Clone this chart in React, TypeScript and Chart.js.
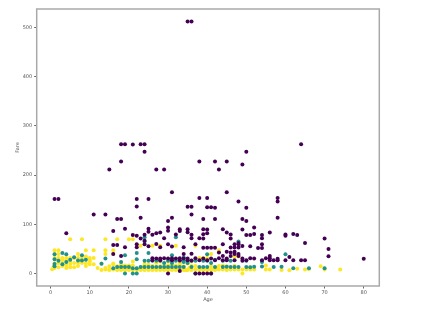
import React, { useEffect, useRef } from "react";
import { Chart, registerables } from "chart.js";

Chart.register(...registerables);

// Passenger points: [Age, Fare]
const firstClassPoints: [number, number][] = [
  [35, 512.3], [36, 512.3],
  [18, 263], [19, 263], [21, 262.4], [23, 263], [24, 263], [64, 263],
  [24, 247.5], [50, 247.5],
  [18, 227.5], [38, 227.5], [42, 227.5], [45, 227.5], [49, 221.8],
  [15, 211.5], [27, 211.5], [29, 211.3], [43, 211.3],
  [31, 164.9], [45, 164.9],
  [1, 151.6], [2, 151.6], [22, 151.6], [25, 151.6],
  [38, 153.5], [40, 153.5], [58, 153.5], [58, 146.5], [48, 146.5],
  [22, 136], [35, 135.6], [36, 135.6], [40, 134.5], [41, 134.5], [42, 133.7], [50, 133.7],
  [11, 120], [14, 120], [36, 120],
  [23, 113.3], [31, 113.3], [58, 113.3],
  [17, 110.9], [18, 110.9], [39, 110.9], [42, 110.9], [49, 110.9], [50, 106.4], [30, 106.4], [30, 93.5],
  [4, 81.9], [16, 86.5], [19, 91.1], [25, 91.1], [25, 85], [28, 83.2], [30, 87], [33, 90], [33, 86.5],
  [35, 90], [35, 83.5], [39, 90], [40, 89.1], [44, 90], [45, 83.2], [46, 79.2], [49, 89.1], [52, 93.5],
  [56, 83.2], [60, 79.2], [60, 76.7], [62, 80], [63, 77.9], [65, 61.9], [70, 71], [71, 49.5], [71, 34.7], [80, 30],
  [21, 77.9], [22, 76.7], [23, 71], [24, 66.6], [24, 78.8], [26, 78.9], [27, 81.9], [29, 71.3], [32, 79.2],
  [36, 78.9], [36, 71.3], [38, 71.3], [39, 79.6], [39, 71], [40, 81.9], [46, 71], [48, 61.9], [50, 77.9],
  [51, 77.9], [52, 80], [54, 71.3], [54, 78.3], [36, 40.1],
  [16, 57.9], [17, 57.9], [19, 53.1], [22, 53.1], [22, 59.4], [24, 59.4], [25, 55.4], [27, 60], [28, 53.1],
  [30, 59.4], [31, 55], [34, 53.1], [37, 59.4], [39, 52], [40, 52], [41, 52], [42, 52], [44, 59.4],
  [46, 52.6], [47, 52.6], [48, 52.6], [47, 59.4], [48, 59.4], [49, 55.9], [51, 55.4], [53, 51.9], [54, 51.9],
  [54, 59.4], [56, 30.7], [57, 26.6],
  [16, 39.4], [18, 35.5], [34, 39.6], [43, 42.5], [45, 44], [46, 42.4], [47, 44], [48, 39.6], [44, 35.5],
  [26, 30.7], [27, 30.5], [28, 30.5], [29, 30.7], [30, 30.5], [31, 30.7], [32, 30.5], [33, 30.7], [34, 30.5],
  [35, 30.5], [37, 30.7], [39, 30.5], [41, 30.5], [43, 30.7], [45, 30.5], [46, 35.5], [47, 39.6], [48, 35.5],
  [49, 30.5], [50, 26.6], [51, 30.7], [52, 30.5], [55, 30.7], [56, 35.5], [58, 29.7], [58, 26.6], [60, 26.6],
  [61, 33.5], [62, 26.6], [64, 26.6], [65, 26.6],
  [26, 26.6], [28, 26.6], [31, 26.6], [33, 26.6], [35, 26.6], [36, 26.3], [38, 26.6], [40, 26.6], [42, 26.6],
  [44, 26.6], [45, 26.6], [47, 26.6], [49, 25.9], [54, 26.6], [56, 26.6],
  [30, 0], [37, 0], [38, 0], [39, 0], [40, 0], [41, 0], [33, 5]
];

const secondClassPoints: [number, number][] = [
  [1, 39], [1, 29], [1, 19.3], [1, 14.5], [2, 26], [3, 41.6], [3, 18.8], [4, 39], [4, 23], [5, 27.8],
  [6, 33], [7, 26.3], [8, 36.8], [8, 26.3], [9, 27.8], [13, 19.5], [14, 30.1], [16, 10.5], [17, 13],
  [18, 13], [18, 23], [19, 36.8], [19, 13], [19, 0], [20, 13], [21, 10.5], [21, 0], [22, 41.6], [22, 29],
  [22, 10.5], [22, 0], [23, 13], [24, 73.5], [24, 65], [24, 26], [24, 13], [25, 41.6], [25, 26], [25, 13],
  [26, 26], [26, 13], [27, 26], [27, 13], [28, 26], [28, 13], [29, 21], [29, 13], [30, 26], [30, 13],
  [31, 36.8], [31, 26.3], [31, 21], [31, 13], [32, 73.5], [32, 26], [32, 13], [33, 26], [33, 13],
  [34, 32.5], [34, 26], [34, 23], [34, 13], [35, 26], [35, 21], [36, 26], [36, 13], [37, 0], [37, 26],
  [38, 13], [39, 26], [39, 13], [40, 39], [40, 26], [40, 13], [41, 0], [41, 21], [42, 27.7], [42, 13],
  [44, 26], [44, 13], [45, 13.5], [46, 26], [46, 13], [47, 13], [48, 65], [48, 13], [50, 26], [50, 13],
  [51, 12.5], [52, 13.5], [54, 26], [54, 23], [54, 14], [57, 13], [59, 13.5], [60, 39], [62, 10.5],
  [66, 10.5], [70, 10.5]
];

const thirdClassPoints: [number, number][] = [
  [0.4, 8.5], [0.8, 14.4], [1, 20.6], [1, 11.1], [1, 31.3], [1, 39.7], [1, 46.9], [2, 46.9], [2, 31.3],
  [2, 21.1], [2, 39.7], [2, 27.9], [2, 12.3], [3, 31.4], [3, 21.1], [3, 15.2], [3, 27.9], [4, 16.7],
  [4, 31.3], [4, 27.9], [4, 11.1], [4, 23.5], [5, 31.4], [5, 19.3], [5, 12.5], [5, 69.6], [5, 24.2],
  [6, 31.3], [6, 21.1], [6, 12.5], [7, 31.4], [7, 39.7], [7, 21.1], [7, 15.2], [8, 69.6], [8, 21.1],
  [8, 31.3], [8, 27.9], [9, 46.9], [9, 31.4], [9, 34.4], [9, 20.6], [9, 15.2], [10, 27.9], [10, 24.2],
  [10, 31.3], [10, 18.8], [11, 46.9], [11, 31.3], [11, 18.8], [12, 11.2], [13, 7.2], [13, 20.2],
  [14, 69.6], [14, 46.9], [14, 39.7], [14, 11.2], [14, 7.9], [15, 14.5], [15, 8], [15, 7.2], [16, 46.9],
  [16, 39.7], [16, 20.2], [16, 8], [16, 18], [17, 69.6], [17, 8], [17, 14.5], [17, 7.2], [18, 8], [18, 14.5],
  [18, 18], [18, 7.2], [19, 8], [19, 7.2], [19, 14.5], [19, 16.1], [20, 69.6], [20, 8], [20, 7.2], [20, 9.2],
  [20, 16.1], [21, 69.6], [21, 8], [21, 7.2], [21, 16.1], [21, 24.2], [22, 8], [22, 7.2], [22, 9.2],
  [22, 10.5], [23, 8], [23, 7.2], [23, 9.2], [23, 56.5], [24, 8], [24, 7.2], [24, 16.1], [24, 19.3],
  [25, 8], [25, 7.2], [25, 9.2], [25, 17.8], [26, 8], [26, 7.2], [26, 56.5], [26, 15.2], [27, 8], [27, 7.2],
  [27, 9.2], [27, 21.1], [28, 8], [28, 7.2], [28, 56.5], [28, 14.5], [28, 24.2], [29, 8], [29, 7.2],
  [29, 9.2], [29, 15.2], [30, 8], [30, 7.2], [30, 9.2], [30, 16.1], [30, 24.2], [31, 8], [31, 7.2],
  [31, 18], [32, 8], [32, 7.2], [32, 56.5], [32, 16.1], [33, 8], [33, 7.2], [33, 15.9], [33, 20.5],
  [34, 8], [34, 7.2], [34, 14.5], [35, 8], [35, 7.2], [35, 20.3], [36, 8], [36, 7.2], [36, 15.2], [36, 24.2],
  [37, 8], [37, 56.5], [37, 15.2], [38, 8], [38, 7.2], [38, 31.4], [39, 8], [39, 7.2], [39, 31.3], [39, 29.1],
  [40, 8], [40, 7.2], [40, 27.9], [40, 31.3], [41, 8], [41, 7.2], [41, 14.1], [41, 39.7], [42, 8], [42, 7.2],
  [43, 8], [43, 46.9], [43, 15.2], [44, 8], [44, 16.1], [45, 8], [45, 7.2], [45, 27.9], [45, 14.5],
  [46, 8], [47, 8], [47, 15.5], [47, 34.4], [48, 8], [48, 34.4], [49, 0], [49, 8], [50, 8], [51, 8],
  [51, 12.5], [52, 8], [55, 8], [55, 16], [56, 8], [59, 7.2], [61, 6.2], [63, 9.6], [65, 7.8], [66, 9.2],
  [69, 14.5], [70, 7.8], [74, 7.8], [34.5, 6.4], [32.5, 9.5], [26.5, 11.5], [29.5, 11.2], [35.5, 11.5],
  [23.5, 12], [38.5, 10.5], [42.5, 11.5], [20.5, 11.2]
];

const xTickValues = [0, 10, 20, 30, 40, 50, 60, 70, 80];
const yTickValues = [0, 100, 200, 300, 400, 500];
const classColors = ["#440154", "#21918c", "#fde725"];
const xLabel = "Age";
const yLabel = "Fare";

const toXY = (pts: [number, number][]) => pts.map(([x, y]) => ({ x, y }));

const framePlugin = {
  id: "frame",
  afterDraw(chart: any) {
    const { ctx, chartArea } = chart;
    ctx.save();
    ctx.strokeStyle = "#a9a9a9";
    ctx.lineWidth = 1.5;
    ctx.strokeRect(chartArea.left, chartArea.top, chartArea.right - chartArea.left, chartArea.bottom - chartArea.top);
    ctx.restore();
  },
};

export default function App() {
  const canvasRef = useRef<HTMLCanvasElement | null>(null);

  useEffect(() => {
    document.body.style.margin = "0";
    const canvas = canvasRef.current;
    if (!canvas) return;
    const tickFont = { family: "DejaVu Sans", size: 5 };
    const r = 2;
    const chart = new Chart(canvas, {
      type: "scatter",
      data: {
        datasets: [
          { label: "1", data: toXY(firstClassPoints), backgroundColor: classColors[0], borderWidth: 0, pointRadius: r },
          { label: "2", data: toXY(secondClassPoints), backgroundColor: classColors[1], borderWidth: 0, pointRadius: r },
          { label: "3", data: toXY(thirdClassPoints), backgroundColor: classColors[2], borderWidth: 0, pointRadius: r },
        ],
      },
      options: {
        animation: false,
        responsive: false,
        layout: { padding: { left: 0, top: 9, right: 41.7, bottom: 0 } },
        plugins: { legend: { display: false }, tooltip: { enabled: false } },
        scales: {
          x: {
            type: "linear",
            min: -3.56,
            max: 83.98,
            border: { display: false },
            grid: { display: true, drawOnChartArea: false, drawTicks: true, tickLength: 2.5, tickColor: "#666" },
            ticks: { font: tickFont, color: "#555", padding: 1.5, includeBounds: false, maxRotation: 0 },
            afterBuildTicks: (axis: any) => { axis.ticks = xTickValues.map((v) => ({ value: v })); },
            afterFit: (axis: any) => { axis.height = 30; },
            title: { display: true, text: xLabel, font: tickFont, color: "#555", padding: { top: 0, bottom: 13.4 } },
          },
          y: {
            type: "linear",
            min: -25.6,
            max: 537.9,
            border: { display: false },
            grid: { display: true, drawOnChartArea: false, drawTicks: true, tickLength: 2.5, tickColor: "#666" },
            ticks: { font: tickFont, color: "#555", padding: 2, includeBounds: false },
            afterBuildTicks: (axis: any) => { axis.ticks = yTickValues.map((v) => ({ value: v })); },
            afterFit: (axis: any) => { axis.width = 36.7; },
            title: { display: true, text: yLabel, font: tickFont, color: "#555", padding: { top: 14.5, bottom: 0 } },
          },
        },
      },
      plugins: [framePlugin],
    });
    return () => chart.destroy();
  }, []);

  return (
    <div style={{ width: 421, height: 316, background: "#fff" }}>
      <canvas ref={canvasRef} width={421} height={316} />
    </div>
  );
}
